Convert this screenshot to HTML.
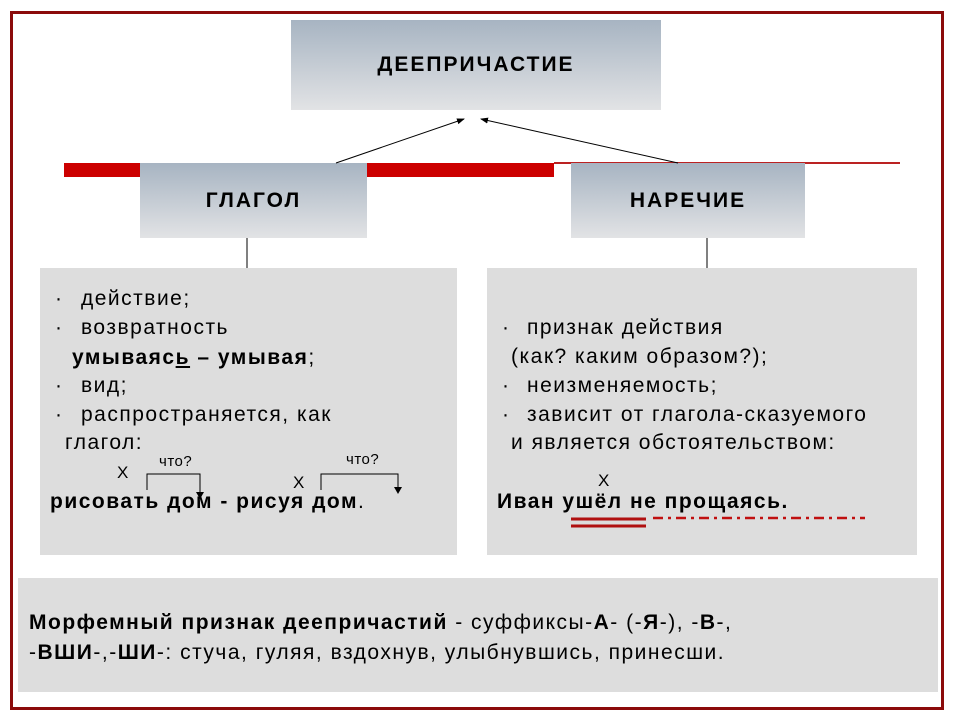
<!DOCTYPE html>
<html><head><meta charset="utf-8"><style>
body{margin:0;width:960px;height:720px;background:#fff;position:relative;overflow:hidden;font-family:"Liberation Sans",Arial,sans-serif;}
.a{position:absolute;}
.hd{position:absolute;background:linear-gradient(#a7b4c2,#e2e3e5);display:flex;align-items:center;justify-content:center;font-weight:bold;font-size:21px;letter-spacing:2px;color:#000;}
.p{position:absolute;background:#dddddd;}
.t{position:absolute;font-size:21px;letter-spacing:1.5px;white-space:nowrap;color:#000;}
</style></head><body>
<div class="a" style="left:10px;top:11px;width:928px;height:693px;border:3px solid #8b0b0b;"></div>
<div class="a" style="left:64px;top:163px;width:490px;height:14px;background:#cc0000;"></div>
<div class="a" style="left:554px;top:162px;width:346px;height:2px;background:#b22;"></div>
<div class="hd" style="left:291px;top:20px;width:370px;height:90px;">ДЕЕПРИЧАСТИЕ</div>
<div class="hd" style="left:140px;top:163px;width:227px;height:75px;">ГЛАГОЛ</div>
<div class="hd" style="left:571px;top:163px;width:234px;height:75px;">НАРЕЧИЕ</div>
<svg class="a" style="left:0;top:0" width="960" height="720">
<defs><marker id="m" markerWidth="8" markerHeight="8" refX="7" refY="4" orient="auto"><path d="M0,1 L8,4 L0,7z" fill="#000"/></marker></defs>
<line x1="336" y1="163" x2="464" y2="119" stroke="#000" marker-end="url(#m)"/>
<line x1="678" y1="163" x2="481" y2="119" stroke="#000" marker-end="url(#m)"/>
<line x1="247" y1="238" x2="247" y2="268" stroke="#000"/>
<line x1="707" y1="238" x2="707" y2="268" stroke="#000"/>
</svg>
<div class="p" style="left:40px;top:268px;width:417px;height:287px;"></div>
<div class="p" style="left:487px;top:268px;width:430px;height:287px;"></div>
<div class="p" style="left:18px;top:578px;width:920px;height:114px;"></div>
<div class="t" style="left:55px;top:287px;">·</div><div class="t" style="left:81px;top:287px;">действие;</div>
<div class="t" style="left:55px;top:316px;">·</div><div class="t" style="left:81px;top:316px;">возвратность</div>
<div class="t" style="left:72px;top:346px;"><b>умываяс<u>ь</u> – умывая</b>;</div>
<div class="t" style="left:55px;top:374px;">·</div><div class="t" style="left:81px;top:374px;">вид;</div>
<div class="t" style="left:55px;top:403px;">·</div><div class="t" style="left:81px;top:403px;">распространяется, как</div>
<div class="t" style="left:65px;top:431px;">глагол:</div>
<div class="t" style="left:117px;top:463px;font-size:17px;letter-spacing:0;">Х</div>
<div class="t" style="left:159px;top:453px;font-size:15px;letter-spacing:0.5px;">что?</div>
<div class="t" style="left:293px;top:473px;font-size:17px;letter-spacing:0;">Х</div>
<div class="t" style="left:346px;top:451px;font-size:15px;letter-spacing:0.5px;">что?</div>
<svg class="a" style="left:0;top:0" width="960" height="720">
<path d="M147,490 V474 H200 V495" fill="none" stroke="#000"/><path d="M196,492 L204,492 L200,499z"/>
<path d="M321,490 V474 H398 V490" fill="none" stroke="#000"/><path d="M394,487 L402,487 L398,494z"/>
</svg>
<div class="t" style="left:50px;top:490px;"><b>рисовать дом - рисуя дом</b>.</div>
<div class="t" style="left:502px;top:316px;">·</div><div class="t" style="left:527px;top:316px;">признак действия</div>
<div class="t" style="left:511px;top:345px;">(как? каким образом?);</div>
<div class="t" style="left:502px;top:374px;">·</div><div class="t" style="left:527px;top:374px;">неизменяемость;</div>
<div class="t" style="left:502px;top:403px;">·</div><div class="t" style="left:527px;top:403px;">зависит от глагола-сказуемого</div>
<div class="t" style="left:511px;top:431px;">и является обстоятельством:</div>
<div class="t" style="left:598px;top:471px;font-size:17px;letter-spacing:0;">Х</div>
<div class="t" style="left:497px;top:490px;"><b>Иван ушёл не прощаясь.</b></div>
<svg class="a" style="left:0;top:0" width="960" height="720">
<line x1="571" y1="519" x2="646" y2="519" stroke="#b01010" stroke-width="3"/>
<line x1="571" y1="526" x2="646" y2="526" stroke="#b01010" stroke-width="3"/>
<line x1="653" y1="518" x2="865" y2="518" stroke="#c01010" stroke-width="2.5" stroke-dasharray="10,5,3,5"/>
</svg>
<div class="t" style="left:29px;top:611px;"><b>Морфемный признак деепричастий</b> - суффиксы-<b>А</b>- (-<b>Я</b>-), -<b>В</b>-,</div>
<div class="t" style="left:29px;top:641px;">-<b>ВШИ</b>-,-<b>ШИ</b>-: стуча, гуляя, вздохнув, улыбнувшись, принесши.</div>
</body></html>
